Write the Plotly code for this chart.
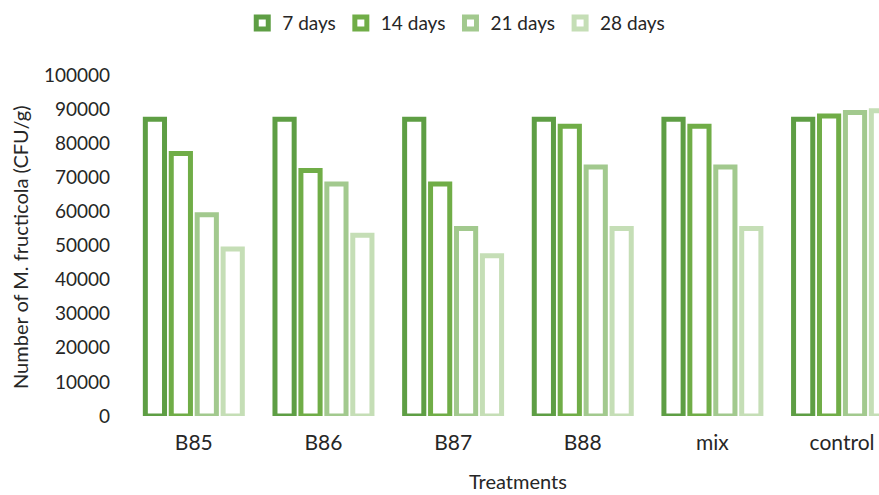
import plotly.graph_objects as go

# Treatments on the category axis
treatments = ["B85", "B86", "B87", "B88", "mix", "control"]

# Number of M. fructicola (CFU/g) after each storage period
days_7 = [87000, 87000, 87000, 87000, 87000, 87000]
days_14 = [77000, 72000, 68000, 85000, 85000, 88000]
days_21 = [59000, 68000, 55000, 73000, 73000, 89000]
days_28 = [49000, 53000, 47000, 55000, 55000, 89500]

series_names = ["7 days", "14 days", "21 days", "28 days"]
series_values = [days_7, days_14, days_21, days_28]
series_colors = ["#5E9E44", "#70AD47", "#A2C98E", "#C5DEB6"]

FONT = "Lato, 'Open Sans', sans-serif"
TEXT_COLOR = "#262626"

fig = go.Figure()
for name, vals, col in zip(series_names, series_values, series_colors):
    fig.add_trace(go.Bar(
        x=treatments,
        y=vals,
        name=name,
        marker=dict(color="white", line=dict(color=col, width=5)),
    ))

fig.update_layout(
    width=879,
    height=495,
    margin=dict(l=129, r=0, t=75, b=79),
    paper_bgcolor="white",
    plot_bgcolor="white",
    barmode="group",
    bargap=0.2,
    bargroupgap=0.26,
    font=dict(family=FONT, size=20, color=TEXT_COLOR),
    showlegend=True,
    legend=dict(
        orientation="h",
        x=0.151, xanchor="left",
        y=1.152, yanchor="middle",
        font=dict(size=19),
        itemwidth=30,
        traceorder="normal",
    ),
    xaxis=dict(
        range=[-0.5, 5.285],
        showgrid=False,
        showline=False,
        zeroline=False,
        ticks="",
        ticklabelstandoff=12,
        tickfont=dict(size=21),
    ),
    yaxis=dict(
        range=[0, 100000],
        dtick=10000,
        showgrid=False,
        showline=False,
        zeroline=False,
        ticks="",
        ticklabelstandoff=18,
        tickformat="d",
        tickfont=dict(size=19),
    ),
    annotations=[
        dict(
            text="Treatments",
            xref="paper", yref="paper",
            x=0.5186, y=-0.19,
            xanchor="center", yanchor="middle",
            showarrow=False,
            font=dict(size=20),
        ),
        dict(
            text="Number of M. fructicola (CFU/g)",
            xref="paper", yref="paper",
            x=-0.1456, y=0.495,
            xanchor="center", yanchor="middle",
            textangle=-90,
            showarrow=False,
            font=dict(size=20),
        ),
    ],
)

fig.write_html("out.html")
